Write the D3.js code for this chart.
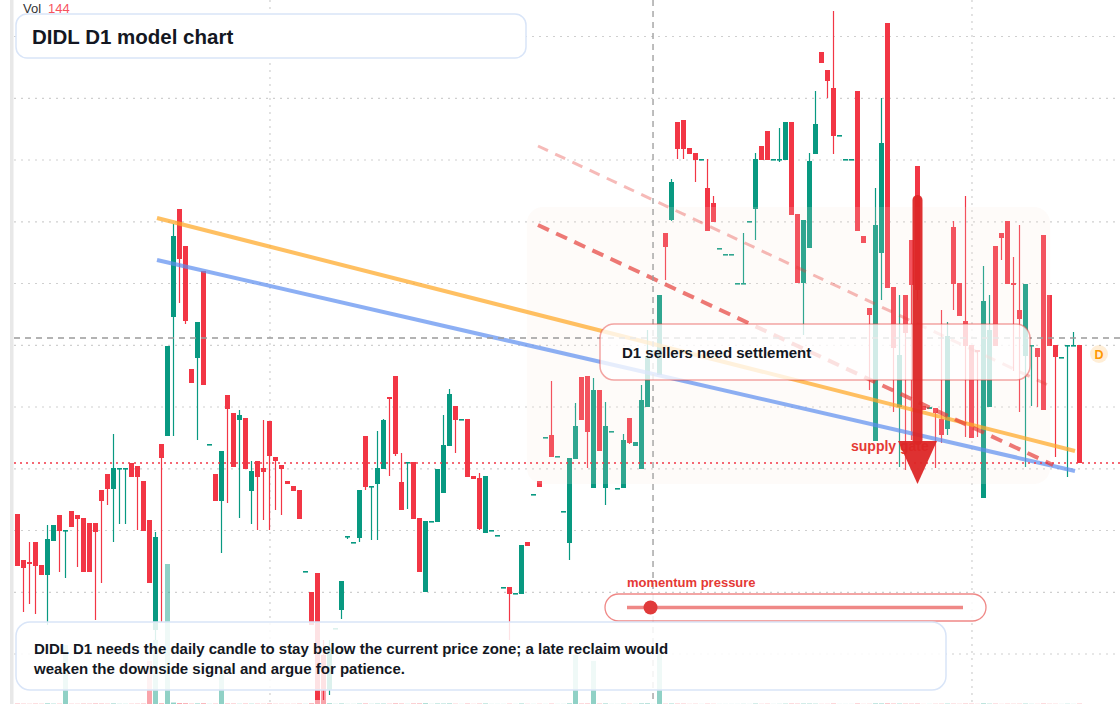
<!DOCTYPE html>
<html>
<head>
<meta charset="utf-8">
<script src="https://cdn.jsdelivr.net/npm/d3@7"></script>
<style>
    html, body { margin: 0; padding: 0; background: #ffffff; }
    svg { display: block; font-family: "Liberation Sans", Arial, Helvetica, sans-serif; }
</style>
</head>
<body>
<div class="chartContainer"></div>
<script>
// daily candles, oldest first (price units)
const opens = [
    4.86, 4.40, 4.38, 4.58, 4.35, 4.25, 4.59, 4.85, 4.69, 4.89,
    4.85, 4.82, 4.77, 4.77, 5.10, 5.26, 5.11, 5.31, 5.31, 5.37,
    5.34, 5.19, 4.80, 3.70, 5.56, 5.64, 6.83, 7.91, 7.54, 6.31,
    6.42, 7.29, 5.55, 5.26, 4.99, 6.05, 5.87, 5.80, 5.82, 5.09,
    5.39, 5.32, 5.79, 5.43, 5.35, 5.19, 5.14, 5.10, 4.28, 4.08,
    4.27, 3.45, 3.10, 3.715, 3.90, 4.635, 4.575, 4.62, 5.64, 5.13,
    5.16, 5.31, 6.03, 6.24, 5.18, 5.375, 5.38, 4.82, 4.08, 4.785,
    4.78, 5.07, 5.54, 5.94, 5.805, 5.81, 5.24, 5.22, 4.67, 4.695,
    4.645, 4.125, 4.13, 4.065, 4.06, 4.58, 5.055, 5.19, 5.625, 5.65,
    5.435, 4.885, 4.57, 5.41, 6.23, 6.24, 5.12, 6.10, 5.12, 5.685,
    5.115, 5.12, 5.82, 5.54, 5.31, 5.93, 6.495, 6.25, 7.67, 7.80,
    8.78, 8.80, 8.52, 8.47, 8.405, 8.12, 7.97, 7.515, 7.455, 7.455,
    7.165, 7.165, 7.785, 7.91, 8.54, 8.69, 8.405, 8.405, 8.40, 8.78,
    7.86, 7.17, 7.52, 8.46, 9.48, 9.30, 9.12, 8.645, 8.405, 8.405,
    9.09, 7.64, 6.92, 5.59, 7.47, 9.77, 7.13, 5.93, 7.05, 7.60,
    8.34, 5.94, 5.91, 5.92, 5.81, 5.71, 7.73, 7.17, 6.79, 6.55,
    6.50, 5.02, 5.93, 7.54, 7.67, 7.79, 7.17, 6.90, 6.44, 6.545,
    6.52, 7.65, 7.05, 6.55, 6.425, 6.545, 6.545, 6.55
];
const highs = [
    4.86, 4.40, 4.58, 4.58, 4.35, 4.75, 4.75, 4.85, 4.70, 4.89,
    4.85, 4.82, 4.77, 4.77, 5.10, 5.26, 5.66, 5.32, 5.32, 5.37,
    5.34, 5.19, 4.80, 4.68, 5.56, 6.54, 7.76, 7.91, 7.54, 6.31,
    6.78, 7.29, 5.56, 5.26, 5.49, 6.05, 5.87, 5.90, 5.82, 5.39,
    5.39, 5.80, 5.79, 5.43, 5.35, 5.19, 5.14, 5.10, 4.29, 4.08,
    4.27, 3.60, 3.60, 3.72, 4.19, 4.64, 4.58, 5.10, 5.64, 5.14,
    5.69, 5.81, 6.03, 6.24, 5.47, 5.38, 5.38, 4.82, 4.79, 4.79,
    5.31, 5.85, 6.11, 5.94, 5.81, 5.81, 5.24, 5.27, 5.24, 4.70,
    4.65, 4.13, 4.13, 4.07, 4.55, 4.58, 5.06, 5.19, 5.63, 6.19,
    5.44, 4.89, 5.42, 5.97, 6.23, 6.24, 6.22, 6.10, 5.98, 5.69,
    5.12, 5.66, 5.82, 5.58, 6.15, 6.70, 6.50, 7.05, 7.67, 8.21,
    8.78, 8.80, 8.52, 8.47, 8.41, 8.41, 8.04, 7.52, 7.46, 7.46,
    7.17, 7.67, 7.79, 8.47, 8.54, 8.69, 8.41, 8.72, 8.78, 8.78,
    7.86, 7.80, 8.47, 9.09, 9.48, 9.30, 9.89, 8.65, 8.41, 8.41,
    9.09, 7.64, 6.92, 8.12, 9.02, 9.77, 7.13, 7.05, 7.05, 7.60,
    8.34, 5.94, 5.93, 5.92, 6.90, 6.78, 7.79, 7.17, 8.04, 6.55,
    6.50, 7.34, 7.05, 7.54, 7.67, 7.79, 7.43, 7.75, 7.16, 6.55,
    6.52, 7.65, 7.05, 6.55, 6.43, 6.55, 6.68, 6.55
];
const lows = [
    4.34, 3.88, 3.96, 3.86, 4.25, 3.75, 4.59, 4.28, 4.22, 4.73,
    4.33, 4.28, 4.28, 3.80, 4.17, 4.95, 4.58, 4.76, 4.76, 5.23,
    4.70, 4.69, 4.17, 3.60, 3.78, 5.64, 5.64, 6.97, 6.76, 6.17,
    5.60, 6.15, 5.55, 4.99, 4.47, 4.97, 5.33, 4.82, 5.31, 4.76,
    4.70, 4.80, 4.70, 4.90, 4.85, 5.16, 5.09, 4.81, 4.28, 3.75,
    3.00, 3.00, 3.05, 3.71, 3.81, 4.61, 4.57, 4.58, 5.10, 4.60,
    4.60, 5.31, 5.24, 5.44, 4.90, 4.91, 4.81, 4.28, 4.08, 4.785,
    4.78, 5.07, 5.54, 5.47, 5.805, 5.23, 5.21, 4.70, 4.67, 4.695,
    4.645, 4.125, 3.60, 4.065, 4.06, 4.54, 5.055, 5.13, 5.625, 5.43,
    5.435, 4.885, 4.40, 5.41, 5.80, 5.32, 5.12, 5.49, 4.95, 5.685,
    5.115, 5.12, 5.56, 5.54, 5.31, 5.93, 6.495, 6.25, 7.20, 7.79,
    8.41, 8.41, 8.46, 8.18, 8.405, 7.69, 7.78, 7.515, 7.455, 7.455,
    7.165, 7.165, 7.785, 7.60, 8.40, 8.40, 8.405, 8.38, 8.40, 7.85,
    7.17, 6.65, 7.52, 8.46, 9.37, 9.02, 8.46, 8.645, 8.405, 8.405,
    7.69, 7.57, 6.10, 5.59, 7.00, 7.12, 5.88, 5.33, 5.30, 5.60,
    7.00, 5.90, 5.91, 5.32, 5.57, 5.65, 6.90, 6.84, 5.63, 5.62,
    5.63, 5.02, 5.93, 6.54, 7.40, 7.16, 6.29, 5.88, 5.33, 5.94,
    5.93, 5.90, 6.54, 5.43, 6.425, 5.23, 6.545, 5.37
];
const closes = [
    4.34, 4.32, 4.36, 4.34, 4.25, 4.61, 4.75, 4.69, 4.70, 4.73,
    4.81, 4.28, 4.28, 4.68, 4.99, 5.11, 5.32, 5.32, 5.32, 5.23,
    5.23, 4.69, 4.17, 4.63, 5.42, 6.54, 7.64, 7.41, 6.79, 6.17,
    6.78, 6.15, 5.56, 4.99, 5.49, 5.91, 5.33, 5.85, 5.31, 5.29,
    5.23, 5.28, 5.44, 5.39, 5.31, 5.16, 5.09, 4.81, 4.29, 3.75,
    3.00, 3.10, 3.50, 3.72, 4.19, 4.64, 4.58, 5.10, 5.13, 5.14,
    5.32, 5.80, 6.01, 5.46, 4.90, 5.38, 4.81, 4.28, 4.79, 4.79,
    5.31, 5.55, 6.06, 5.80, 5.81, 5.23, 5.21, 4.71, 5.24, 4.70,
    4.65, 4.13, 4.06, 4.07, 4.55, 4.54, 5.06, 5.13, 5.63, 5.43,
    5.44, 4.89, 5.42, 5.74, 5.80, 5.68, 6.10, 5.49, 5.74, 5.69,
    5.12, 5.60, 5.57, 5.58, 6.00, 6.44, 6.50, 7.05, 7.53, 8.18,
    8.51, 8.51, 8.46, 8.40, 8.41, 7.69, 7.78, 7.52, 7.46, 7.46,
    7.17, 7.17, 7.79, 8.41, 8.40, 8.40, 8.41, 8.41, 8.78, 7.85,
    7.17, 7.80, 8.39, 8.76, 9.37, 9.19, 8.64, 8.65, 8.41, 8.41,
    7.69, 7.57, 6.85, 7.75, 8.57, 7.12, 6.52, 6.45, 6.67, 7.15,
    7.10, 5.90, 5.93, 5.87, 5.65, 6.64, 7.16, 6.84, 6.54, 5.62,
    6.48, 6.99, 6.70, 6.54, 7.62, 7.16, 7.15, 6.81, 7.16, 6.55,
    6.43, 5.90, 6.54, 6.43, 6.43, 6.55, 6.55, 5.37
];
const volumes = [
    180, 120, 90, 150, 110, 260, 140, 130, 25300, 100,
    90, 160, 140, 210, 170, 120, 230, 80, 70, 110,
    130, 190, 18450, 27450, 300, 60000, 620, 410, 350, 150,
    240, 330, 60, 140, 13300, 200, 180, 90, 170, 120,
    140, 110, 220, 100, 90, 70, 80, 160, 60, 310,
    18850, 10300, 280, 60, 190, 50, 50, 170, 210, 70,
    150, 160, 120, 260, 180, 60, 220, 240, 300, 50,
    190, 170, 230, 110, 40, 180, 60, 160, 200, 40,
    40, 40, 130, 40, 190, 70, 40, 90, 40, 140,
    40, 40, 260, 21000, 170, 190, 18450, 160, 210, 40,
    40, 150, 110, 60, 230, 260, 40, 21450, 120, 180,
    150, 140, 60, 90, 30, 120, 80, 30, 30, 30,
    30, 60, 30, 160, 70, 110, 30, 60, 130, 170,
    140, 170, 160, 120, 60, 70, 190, 30, 30, 30,
    200, 50, 80, 230, 210, 260, 170, 160, 150, 140,
    180, 40, 40, 90, 110, 150, 120, 80, 160, 140,
    70, 250, 130, 140, 50, 110, 90, 110, 150, 60,
    60, 170, 90, 80, 30, 90, 40, 144
];

// grid levels and time grid (bar index)
const gridPrices = [9.635, 9.017, 8.40, 7.782, 7.165, 6.547, 5.93, 5.312, 4.695, 4.077, 3.46];
const gridBars = [42.08, 159.08];
const crosshair = {bar: 105.92, price: 6.62};

// drawings, in bar index / price
const zone = {from: 84.9, to: 172.1, top: 7.93, bottom: 5.16};
const orangeLine = [[23.25, 7.82], [176.25, 5.49]];
const blueLine = [[23.25, 7.40], [176.25, 5.29]];
const redDash = [[86.75, 7.75], [172.6, 5.35]];
const redDashLight = [[86.75, 8.54], [172.45, 6.13]];
const arrow = {bar: 150, top: 8.05, headBase: 5.59, tip: 5.16};
const momentumValue = 0.07;

const width = 1120, height = 704;
const upColor = '#089981', downColor = '#f23645';

const svg = d3.select('.chartContainer')
    .append('svg')
    .attr('width', width)
    .attr('height', height);

const x = d3.scaleLinear().domain([0, opens.length - 1]).range([17.5, 1079.5]);
const y = d3.scaleLinear().domain([2.96, 10]).range([height, 0]);
const v = d3.scaleLinear().domain([0, 60000]).range([0, 140]);

const bars = opens.map((o, i) => ({
    i, o, h: highs[i], l: lows[i], c: closes[i], vol: volumes[i], up: closes[i] >= o
}));

// left price-scale edge
svg.append('rect').attr('x', 10).attr('y', 0).attr('width', 3.5).attr('height', height).attr('fill', '#e8e8e8');

// grid
const grid = svg.append('g').attr('stroke', '#cfcfcf').attr('stroke-width', 1.2).attr('stroke-dasharray', '2,5');
grid.selectAll('.gy').data(gridPrices).join('line')
    .attr('x1', 14).attr('x2', width)
    .attr('y1', d => y(d)).attr('y2', d => y(d));
grid.selectAll('.gx').data(gridBars).join('line')
    .attr('x1', d => x(d)).attr('x2', d => x(d))
    .attr('y1', 0).attr('y2', height);

// volume
svg.append('g').selectAll('rect').data(bars).join('rect')
    .attr('x', d => x(d.i) - 2.5)
    .attr('width', 5)
    .attr('y', d => height - v(d.vol))
    .attr('height', d => v(d.vol))
    .attr('fill', d => d.up ? 'rgba(8,153,129,0.45)' : 'rgba(242,54,69,0.45)');

// candles
const candles = svg.append('g');
candles.selectAll('line').data(bars).join('line')
    .attr('x1', d => x(d.i)).attr('x2', d => x(d.i))
    .attr('y1', d => y(d.h)).attr('y2', d => y(d.l))
    .attr('stroke', d => d.up ? upColor : downColor)
    .attr('stroke-width', 1.2);
candles.selectAll('rect').data(bars).join('rect')
    .attr('x', d => x(d.i) - 2.5)
    .attr('width', 5)
    .attr('y', d => Math.min(y(d.o), y(d.c)))
    .attr('height', d => Math.max(1.6, Math.abs(y(d.o) - y(d.c))))
    .attr('fill', d => d.up ? upColor : downColor);

// supply zone
svg.append('rect')
    .attr('x', x(zone.from)).attr('y', y(zone.top))
    .attr('width', x(zone.to) - x(zone.from))
    .attr('height', y(zone.bottom) - y(zone.top))
    .attr('rx', 16)
    .attr('fill', 'rgba(248,232,222,0.17)');

// trend lines
const drawLine = (pts, color, w, opacity, dash) => {
    const l = svg.append('line')
        .attr('x1', x(pts[0][0])).attr('y1', y(pts[0][1]))
        .attr('x2', x(pts[1][0])).attr('y2', y(pts[1][1]))
        .attr('stroke', color).attr('stroke-width', w)
        .attr('stroke-opacity', opacity);
    if (dash) l.attr('stroke-dasharray', dash);
};
drawLine(orangeLine, '#ffa726', 4, 0.72);
drawLine(blueLine, '#5b8def', 4, 0.7);
drawLine(redDashLight, '#e53935', 3, 0.35, '11,8');
drawLine(redDash, '#e53935', 4, 0.68, '12,8');

// crosshair
const cross = svg.append('g').attr('stroke', '#9a9a9a').attr('stroke-width', 1.3).attr('stroke-dasharray', '6,5');
cross.append('line').attr('x1', 14).attr('x2', width).attr('y1', y(crosshair.price)).attr('y2', y(crosshair.price));
cross.append('line').attr('x1', x(crosshair.bar)).attr('x2', x(crosshair.bar)).attr('y1', 0).attr('y2', height);

// last price line
const lastClose = closes[closes.length - 1];
svg.append('line')
    .attr('x1', 14).attr('x2', width)
    .attr('y1', y(lastClose)).attr('y2', y(lastClose))
    .attr('stroke', downColor).attr('stroke-width', 1.3).attr('stroke-dasharray', '2,4');

// callout
svg.append('rect')
    .attr('x', 600).attr('y', 324).attr('width', 430).attr('height', 56).attr('rx', 14)
    .attr('fill', 'rgba(255,255,255,0.78)')
    .attr('stroke', 'rgba(229,57,53,0.45)').attr('stroke-width', 1.5);
svg.append('text').attr('x', 622).attr('y', 358)
    .attr('font-size', 15).attr('font-weight', 700).attr('fill', '#131722')
    .text('D1 sellers need settlement');

// supply label + arrow
svg.append('text').attr('x', 851).attr('y', 451)
    .attr('font-size', 14).attr('font-weight', 700).attr('fill', '#e53935')
    .text('supply gate');
const ax = x(arrow.bar);
svg.append('rect')
    .attr('x', ax - 5).attr('y', y(arrow.top))
    .attr('width', 10).attr('height', y(arrow.headBase) - y(arrow.top) + 4)
    .attr('rx', 5).attr('fill', '#dc2626').attr('fill-opacity', 0.95);
svg.append('path')
    .attr('d', `M ${ax - 19.5} ${y(arrow.headBase)} L ${ax + 19.5} ${y(arrow.headBase)} L ${ax} ${y(arrow.tip)} Z`)
    .attr('fill', '#dc2626').attr('fill-opacity', 0.95);

// momentum slider
svg.append('text').attr('x', 627).attr('y', 586.5)
    .attr('font-size', 13).attr('font-weight', 700).attr('fill', '#e53935')
    .text('momentum pressure');
svg.append('rect')
    .attr('x', 605).attr('y', 594).attr('width', 381).attr('height', 27).attr('rx', 13.5)
    .attr('fill', 'rgba(255,255,255,0.85)')
    .attr('stroke', 'rgba(229,57,53,0.6)').attr('stroke-width', 1.3);
const track = d3.scaleLinear().domain([0, 1]).range([627, 963]);
svg.append('line')
    .attr('x1', track(0)).attr('x2', track(1)).attr('y1', 607.5).attr('y2', 607.5)
    .attr('stroke', 'rgba(229,57,53,0.6)').attr('stroke-width', 3.5);
svg.append('circle')
    .attr('cx', track(momentumValue)).attr('cy', 607.5).attr('r', 7)
    .attr('fill', '#e03a3a');

// bottom note
svg.append('rect')
    .attr('x', 16).attr('y', 622).attr('width', 930).attr('height', 68).attr('rx', 14)
    .attr('fill', 'rgba(255,255,255,0.86)')
    .attr('stroke', '#d9e5f8').attr('stroke-width', 1.5);
const note = svg.append('text').attr('font-size', 15).attr('font-weight', 700).attr('fill', '#131722');
note.append('tspan').attr('x', 34).attr('y', 653.5)
    .text('DIDL D1 needs the daily candle to stay below the current price zone; a late reclaim would');
note.append('tspan').attr('x', 34).attr('y', 673.5)
    .text('weaken the downside signal and argue for patience.');

// title
svg.append('rect')
    .attr('x', 16).attr('y', 14).attr('width', 510).attr('height', 44).attr('rx', 11)
    .attr('fill', '#ffffff')
    .attr('stroke', '#d9e5f8').attr('stroke-width', 1.5);
svg.append('text').attr('x', 32).attr('y', 43.5)
    .attr('font-size', 20.5).attr('font-weight', 700).attr('fill', '#131722')
    .text('DIDL D1 model chart');

// volume legend
const volText = svg.append('text').attr('x', 23).attr('y', 13).attr('font-size', 13);
volText.append('tspan').attr('fill', '#333333').text('Vol');
volText.append('tspan').attr('dx', 7).attr('fill', '#f7525f').text(volumes[volumes.length - 1]);

// series badge
svg.append('circle').attr('cx', 1099).attr('cy', 354).attr('r', 9).attr('fill', 'rgba(255,152,0,0.16)');
svg.append('text').attr('x', 1099).attr('y', 358.5)
    .attr('text-anchor', 'middle').attr('font-size', 12.5).attr('font-weight', 700).attr('fill', '#ff9800')
    .text('D');
</script>
</body>
</html>
